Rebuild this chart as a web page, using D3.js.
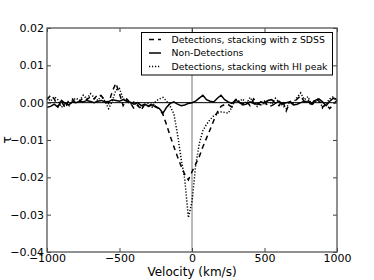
<!DOCTYPE html>
<html>
<head>
<meta charset="utf-8">
<script src="https://cdn.jsdelivr.net/npm/d3@7"></script>
<style>
  body { margin: 0; background: #fff; }
  text { font-family: "DejaVu Sans", sans-serif; fill: #000; }
</style>
</head>
<body>
<svg id="chart"></svg>
<script>
// velocity grid, km/s
const velocity = d3.range(-1000, 1001, 25);

// stacked optical depth, detections stacked on SDSS redshift
const zSdss = [
  0.0008, 0.0020, 0.0010, -0.0010, 0.0004, -0.0014, 0.0006, 0.0010, -0.0002, 0.0004,
  0.0012, 0.0008, 0.0016, 0.0010, 0.0022, 0.0018, 0.0006, -0.0002, 0.0030, 0.0052,
  0.0024, -0.0008, 0.0010, 0.0000, -0.0016, -0.0006, -0.0020, -0.0004, -0.0010, -0.0002,
  -0.0010, -0.0016, -0.0032, -0.0060, -0.0090, -0.0118, -0.0145, -0.0170, -0.0192, -0.0207,
  -0.0185, -0.0165, -0.0145, -0.0118, -0.0095, -0.0072, -0.0048, -0.0025, -0.0010, -0.0005,
  -0.0005, -0.0012, 0.0008, 0.0000, -0.0004, 0.0004, -0.0008, 0.0010, -0.0002, -0.0006,
  0.0004, -0.0010, -0.0008, -0.0002, -0.0008, 0.0006, -0.0022, 0.0002, -0.0002, 0.0010,
  0.0018, 0.0002, 0.0008, -0.0010, 0.0012, 0.0004, -0.0012, -0.0004, -0.0016, -0.0004,
  0.0006
];

// non-detections
const nonDet = [
  -0.0012, -0.0010, -0.0004, -0.0012, 0.0006, -0.0002, -0.0006, 0.0002, 0.0000, 0.0004,
  0.0002, 0.0006, 0.0003, 0.0000, 0.0004, 0.0006, 0.0002, 0.0003, 0.0008, 0.0006,
  0.0004, 0.0008, 0.0004, 0.0001, -0.0004, 0.0000, -0.0008, -0.0004, -0.0010, -0.0006,
  -0.0012, -0.0016, -0.0028, -0.0012, -0.0002, 0.0002, -0.0004, -0.0008, -0.0006, -0.0002,
  0.0000, 0.0004, 0.0012, 0.0020, 0.0008, 0.0004, 0.0002, 0.0012, 0.0020, 0.0008,
  0.0002, -0.0002, 0.0006, 0.0002, -0.0006, -0.0004, 0.0002, -0.0002, -0.0004, 0.0002,
  0.0000, 0.0006, 0.0008, -0.0002, 0.0004, -0.0004, 0.0000, 0.0002, -0.0006, -0.0004,
  0.0000, 0.0004, 0.0002, -0.0002, 0.0006, 0.0010, 0.0002, -0.0008, 0.0004, 0.0012,
  0.0008
];

// detections stacked on HI peak
const hiPeak = [
  0.0014, 0.0004, 0.0016, 0.0008, -0.0012, -0.0004, -0.0010, 0.0006, 0.0012, 0.0006,
  0.0020, 0.0010, 0.0024, 0.0014, 0.0006, 0.0018, 0.0004, -0.0016, 0.0004, 0.0034,
  0.0038, 0.0010, 0.0006, -0.0004, 0.0002, -0.0008, -0.0014, -0.0006, -0.0002, -0.0012,
  0.0004, 0.0010, 0.0014, 0.0004, -0.0010, -0.0030, -0.0085, -0.0150, -0.0205, -0.0308,
  -0.0265, -0.0170, -0.0110, -0.0075, -0.0058, -0.0045, -0.0035, -0.0028, -0.0025, -0.0026,
  -0.0028, -0.0012, 0.0010, 0.0004, 0.0010, -0.0004, 0.0014, 0.0000, -0.0010, 0.0002,
  -0.0006, 0.0008, -0.0004, 0.0012, 0.0002, -0.0008, -0.0016, 0.0004, 0.0000, 0.0014,
  0.0026, 0.0008, 0.0016, -0.0006, 0.0002, 0.0012, -0.0014, -0.0002, 0.0010, 0.0016,
  0.0004
];

const xTicks = [-1000, -500, 0, 500, 1000];
const yTicks = [0.02, 0.01, 0.00, -0.01, -0.02, -0.03, -0.04];

const series = [
  { label: "Detections, stacking with z SDSS", values: zSdss, dash: "5,4" },
  { label: "Non-Detections", values: nonDet, dash: null },
  { label: "Detections, stacking with HI peak", values: hiPeak, dash: "1.2,1.8" }
];

const W = 374, H = 280;
const margin = { top: 28, right: 37, bottom: 28, left: 47 },
      width = W - margin.left - margin.right,
      height = H - margin.top - margin.bottom;

const svg = d3.select("#chart").attr("width", W).attr("height", H);
const g = svg.append("g").attr("transform", `translate(${margin.left},${margin.top})`);

const x = d3.scaleLinear().domain([-1000, 1000]).range([0, width]);
const y = d3.scaleLinear().domain([-0.04, 0.02]).range([height, 0]);

// reference lines
g.append("line")
  .attr("x1", x(0)).attr("x2", x(0)).attr("y1", 0).attr("y2", height)
  .attr("stroke", "#777").attr("stroke-width", 1);
g.append("line")
  .attr("x1", 0).attr("x2", width).attr("y1", y(0)).attr("y2", y(0))
  .attr("stroke", "#000").attr("stroke-width", 1);

const line = d3.line()
  .x((d, i) => x(velocity[i]))
  .y(d => y(d));

series.forEach(s => {
  g.append("path")
    .datum(s.values)
    .attr("d", line)
    .attr("fill", "none")
    .attr("stroke", "#000")
    .attr("stroke-width", 1.5)
    .attr("stroke-dasharray", s.dash);
});

// axes with inward ticks on all four sides
const fmtY = d => d3.format(".2f")(d).replace("-", "\u2212");
const fmtX = d => String(d).replace("-", "\u2212");

const axL = g.append("g").call(d3.axisLeft(y).tickValues(yTicks).tickSizeInner(-4).tickSizeOuter(0).tickPadding(3).tickFormat(fmtY));
const axB = g.append("g").attr("transform", `translate(0,${height})`)
  .call(d3.axisBottom(x).tickValues(xTicks).tickSizeInner(-4).tickSizeOuter(0).tickPadding(2).tickFormat(fmtX));
const axR = g.append("g").attr("transform", `translate(${width},0)`)
  .call(d3.axisRight(y).tickValues(yTicks).tickSizeInner(-4).tickSizeOuter(0).tickFormat(""));
const axT = g.append("g")
  .call(d3.axisTop(x).tickValues(xTicks).tickSizeInner(-4).tickSizeOuter(0).tickFormat(""));

[axL, axB, axR, axT].forEach(a => {
  a.select(".domain").remove();
  a.selectAll(".tick line").attr("stroke", "#444");
  a.selectAll("text").style("font-size", "11px").style("font-family", "DejaVu Sans");
});

g.append("rect")
  .attr("width", width).attr("height", height)
  .attr("fill", "none").attr("stroke", "#555").attr("stroke-width", 1.3);

// axis titles
svg.append("text")
  .attr("x", margin.left + width / 2).attr("y", 276)
  .attr("text-anchor", "middle")
  .style("font-size", "12px")
  .text("Velocity (km/s)");

svg.append("text")
  .attr("transform", `translate(11,${margin.top + height / 2}) rotate(-90)`)
  .attr("text-anchor", "middle")
  .style("font-size", "12px")
  .text("\u03c4");

// legend
const leg = g.append("g").attr("transform", `translate(${141.5 - margin.left},${32.5 - margin.top})`);
leg.append("rect")
  .attr("width", 191).attr("height", 42.5)
  .attr("fill", "#fff").attr("stroke", "#000").attr("stroke-width", 1);

series.forEach((s, i) => {
  const cy = 7 + i * 13.5;
  leg.append("line")
    .attr("x1", 7.5).attr("x2", 19.5).attr("y1", cy).attr("y2", cy)
    .attr("stroke", "#000").attr("stroke-width", 1.5)
    .attr("stroke-dasharray", s.dash);
  leg.append("text")
    .attr("x", 30).attr("y", cy)
    .attr("dy", "0.35em")
    .style("font-size", "9.3px")
    .text(s.label);
});
</script>
</body>
</html>
